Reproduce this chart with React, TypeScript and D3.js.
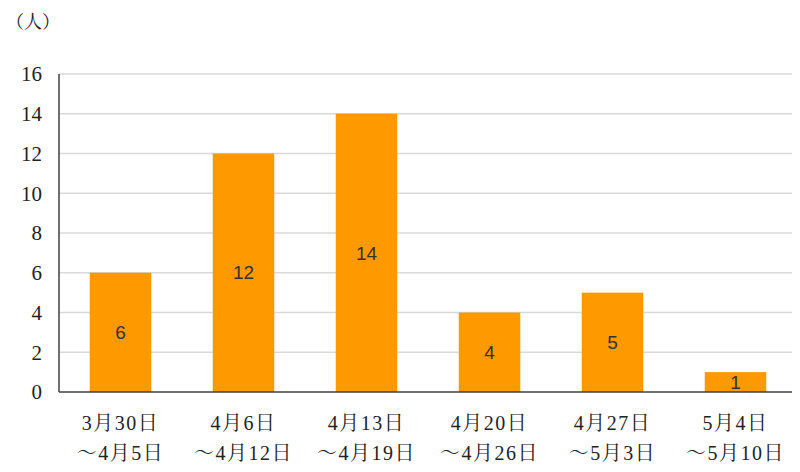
import { useEffect, useRef } from 'react'
import * as d3 from 'd3'

const weeksStart = ['3月30日', '4月6日', '4月13日', '4月20日', '4月27日', '5月4日']
const weeksEnd = ['～4月5日', '～4月12日', '～4月19日', '～4月26日', '～5月3日', '～5月10日']
const counts = [6, 12, 14, 4, 5, 1]
const yTicks = [0, 2, 4, 6, 8, 10, 12, 14, 16]

const W = 800
const H = 472
const serif = '"Liberation Serif", "Noto Serif CJK JP", "Noto Sans CJK JP", serif'

export default function App() {
  const ref = useRef<SVGSVGElement>(null)

  useEffect(() => {
    if (!ref.current) return
    const svg = d3.select(ref.current)
    svg.selectAll('*').remove()

    const margin = { top: 74, right: 3, bottom: 80, left: 59 }
    const innerW = W - margin.left - margin.right
    const innerH = H - margin.top - margin.bottom

    const x = d3.scaleBand<number>()
      .domain(d3.range(counts.length))
      .range([0, innerW])
      .paddingInner(0.5)
      .paddingOuter(0.25)
    const y = d3.scaleLinear().domain([0, 16]).range([innerH, 0])

    const g = svg.append('g').attr('transform', `translate(${margin.left},${margin.top})`)

    // gridlines
    g.selectAll('.grid')
      .data(yTicks.filter(t => t > 0))
      .enter().append('line')
      .attr('x1', 0)
      .attr('x2', innerW)
      .attr('y1', d => y(d))
      .attr('y2', d => y(d))
      .attr('stroke', '#d9d9d9')
      .attr('stroke-width', 1.5)

    // bars
    g.selectAll('.bar')
      .data(counts)
      .enter().append('rect')
      .attr('x', (d, i) => x(i)!)
      .attr('y', d => y(d))
      .attr('width', x.bandwidth())
      .attr('height', d => innerH - y(d))
      .attr('fill', '#ff9900')

    // value labels
    g.selectAll('.val')
      .data(counts)
      .enter().append('text')
      .attr('x', (d, i) => x(i)! + x.bandwidth() / 2)
      .attr('y', d => (y(d) + innerH) / 2)
      .attr('dy', '0.35em')
      .attr('text-anchor', 'middle')
      .style('font-family', '"Liberation Sans", Arial, sans-serif')
      .style('font-size', '19px')
      .attr('fill', '#333')
      .text(d => d)

    // axes lines
    g.append('line')
      .attr('x1', 0).attr('x2', 0)
      .attr('y1', 0).attr('y2', innerH)
      .attr('stroke', '#404040').attr('stroke-width', 1.5)
    g.append('line')
      .attr('x1', 0).attr('x2', innerW)
      .attr('y1', innerH).attr('y2', innerH)
      .attr('stroke', '#404040').attr('stroke-width', 1.5)

    // y tick labels
    g.selectAll('.ytick')
      .data(yTicks)
      .enter().append('text')
      .attr('x', -17)
      .attr('y', d => y(d))
      .attr('dy', '0.35em')
      .attr('text-anchor', 'end')
      .style('font-family', serif)
      .style('font-size', '21px')
      .attr('fill', '#222')
      .text(d => d)

    // x labels
    const xl = g.selectAll('.xl')
      .data(counts)
      .enter().append('g')
      .attr('transform', (d, i) => `translate(${x(i)! + x.bandwidth() / 2},${innerH})`)
    xl.append('text')
      .attr('y', 38)
      .attr('text-anchor', 'middle')
      .style('font-family', serif)
      .style('font-size', '20px')
      .style('letter-spacing', '1.5px')
      .attr('fill', '#222')
      .text((d, i) => weeksStart[i])
    xl.append('text')
      .attr('y', 68)
      .attr('text-anchor', 'middle')
      .style('font-family', serif)
      .style('font-size', '20px')
      .style('letter-spacing', '1.5px')
      .attr('fill', '#222')
      .text((d, i) => weeksEnd[i])

    // unit
    svg.append('text')
      .attr('x', 6)
      .attr('y', 28)
      .style('font-family', serif)
      .style('font-size', '18px')
      .attr('fill', '#222')
      .text('（人）')
  }, [])

  return (
    <div style={{ margin: -8, width: W, height: H, background: '#fff' }}>
      <svg ref={ref} width={W} height={H} />
    </div>
  )
}
